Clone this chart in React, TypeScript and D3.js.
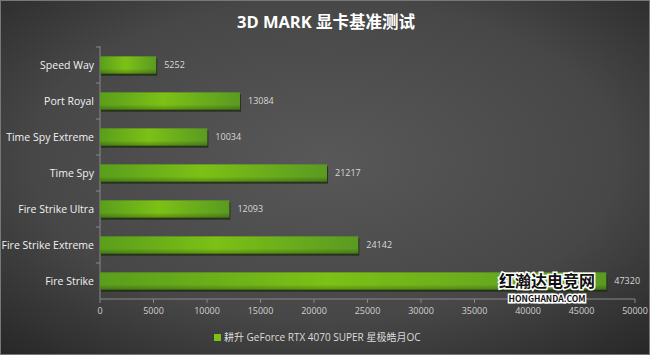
import React from "react";
import * as d3 from "d3";

const categories = ["Speed Way", "Port Royal", "Time Spy Extreme", "Time Spy", "Fire Strike Ultra", "Fire Strike Extreme", "Fire Strike"];
const scores = [5252, 13084, 10034, 21217, 12093, 24142, 47320];
const xTicks = [0, 5000, 10000, 15000, 20000, 25000, 30000, 35000, 40000, 45000, 50000];
const title = "3D MARK 显卡基准测试";
const seriesName = "耕升 GeForce RTX 4070 SUPER 星极皓月OC";

const W = 650, H = 355;
const M = { left: 100, right: 15, top: 47, bottom: 56 };

export default function App() {
  const x = d3.scaleLinear().domain([0, 50000]).range([M.left, 635]);
  const y = d3.scaleBand().domain(categories).range([M.top, 299]).paddingInner(0.52).paddingOuter(0.26);
  const font = "'Open Sans', 'Noto Sans CJK SC', sans-serif";
  const bh = y.bandwidth();
  const step = y.step();
  return (
    <svg width={W} height={H} style={{ position: "absolute", left: 0, top: 0 }}>
      <defs>
        <radialGradient id="bg" cx="0.5" cy="0.45" r="0.75">
          <stop offset="0" stopColor="#585858" />
          <stop offset="0.6" stopColor="#474747" />
          <stop offset="1" stopColor="#262626" />
        </radialGradient>
        <linearGradient id="barH" x1="0" x2="1" y1="0" y2="0">
          <stop offset="0" stopColor="#5a9e1c" />
          <stop offset="0.45" stopColor="#7cc115" />
          <stop offset="1" stopColor="#5a9a22" />
        </linearGradient>
        <linearGradient id="barV" x1="0" x2="0" y1="0" y2="1">
          <stop offset="0" stopColor="#000" stopOpacity="0" />
          <stop offset="0.7" stopColor="#000" stopOpacity="0" />
          <stop offset="1" stopColor="#000" stopOpacity="0.25" />
        </linearGradient>
      </defs>
      <rect width={W} height={H} fill="url(#bg)" />
      <rect x={0.5} y={0.5} width={W - 1} height={H - 1} fill="none" stroke="#777" strokeWidth={1} />
      <text x={326} y={28} textAnchor="middle" fill="#fff" fontFamily={font} fontWeight="bold" fontSize={16.5}>{title}</text>
      {/* y axis */}
      <line x1={M.left} x2={M.left} y1={M.top - 1} y2={299} stroke="#888" />
      {categories.map((c, i) => (
        <line key={"yt" + i} x1={M.left - 4} x2={M.left} y1={M.top + i * step} y2={M.top + i * step} stroke="#888" />
      ))}
      {/* bars */}
      {categories.map((c, i) => {
        const yy = y(c)!;
        const w = x(scores[i]) - x(0);
        return (
          <g key={c}>
            <rect x={x(0) + 1} y={yy + 2} width={w} height={bh} fill="#1c2a10" opacity={0.8} />
            <rect x={x(0)} y={yy} width={w} height={bh} fill="url(#barH)" />
            <rect x={x(0)} y={yy} width={w} height={bh} fill="url(#barV)" />
            <text x={x(scores[i]) + 8} y={yy + bh / 2} dy="0.35em" fill="#d8d8d8" fontFamily={font} fontSize={9}>{scores[i]}</text>
            <text x={M.left - 6} y={yy + bh / 2} dy="0.35em" textAnchor="end" fill="#f2f2f2" fontFamily={font} fontSize={10.5}>{c}</text>
          </g>
        );
      })}
      {/* x axis */}
      <line x1={M.left} x2={635} y1={299} y2={299} stroke="#888" />
      {xTicks.map((t) => (
        <g key={t}>
          <line x1={x(t)} x2={x(t)} y1={299} y2={303} stroke="#888" />
          <text x={x(t)} y={314} textAnchor="middle" fill="#d0d0d0" fontFamily={font} fontSize={9}>{t}</text>
        </g>
      ))}
      {/* legend */}
      <rect x={214} y={334} width={7} height={7} fill="#7cc115" />
      <text x={224} y={341} fill="#dcdcdc" fontFamily={font} fontSize={10}>{seriesName}</text>
      {/* watermark */}
      <g fontFamily="'Noto Sans CJK SC', sans-serif" textAnchor="middle" stroke="#fff" strokeWidth={3} paintOrder="stroke" fill="#111">
        <text x={547} y={287} fontSize={16} fontWeight="bold">红瀚达电竞网</text>
        <text x={547} y={302} fontSize={8.5} fontWeight="bold">HONGHANDA.COM</text>
      </g>
    </svg>
  );
}
